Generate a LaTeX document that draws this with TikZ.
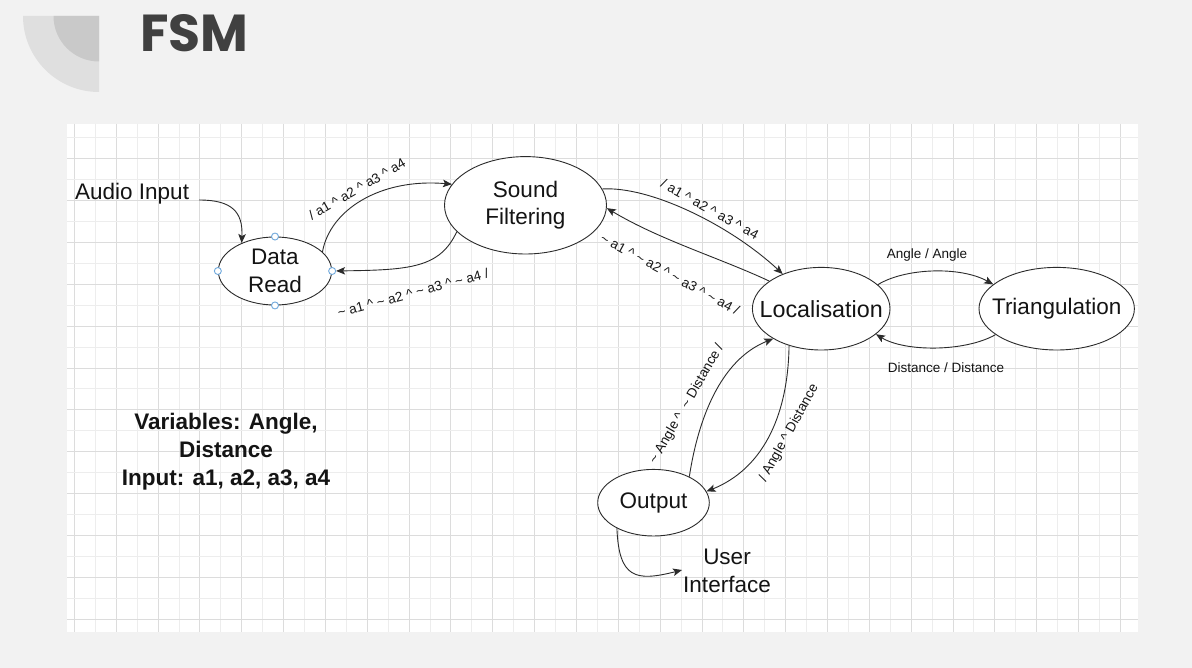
\documentclass[tikz,border=0pt]{standalone}
\usepackage{fontspec}
\setmainfont{Liberation Sans}
\newfontfamily\titlefont{Poppins}
\usetikzlibrary{arrows.meta,shapes.geometric}
\definecolor{bg}{HTML}{F2F2F2}
\definecolor{decoA}{HTML}{DFDFDF}
\definecolor{decoB}{HTML}{C9C9C9}
\definecolor{titlegray}{HTML}{404040}
\definecolor{gridlight}{HTML}{EDEDED}
\definecolor{griddark}{HTML}{DCDCDC}
\definecolor{edgecol}{HTML}{2B2B2B}
\definecolor{txtcol}{HTML}{141414}
\definecolor{handle}{HTML}{6FA8DC}
\tikzset{
  state/.style={ellipse, draw=edgecol, fill=white, line width=0.9pt, inner sep=0pt},
  bigtxt/.style={text=txtcol, align=center, inner sep=2pt, font=\fontsize{22.5}{27.5}\selectfont},
  lbl/.style={text=txtcol, inner sep=1pt, font=\fontsize{13.5}{15}\selectfont},
  conn/.style={draw=edgecol, line width=0.9pt, -{Stealth[length=9pt,width=7.5pt,inset=2pt]}},
  hnd/.style={circle, draw=handle, fill=white, line width=0.9pt, inner sep=0pt, minimum size=7pt}
}
\begin{document}
\begin{tikzpicture}[x=1pt,y=-1pt]
\useasboundingbox (0,0) rectangle (1192,668);
\fill[bg] (0,0) rectangle (1192,668);
% decoration
\fill[decoA] (99,16) -- (23,16) arc[start angle=180,end angle=270,radius=76pt] -- cycle;
\fill[decoB] (99,16) -- (53.5,16) arc[start angle=180,end angle=270,radius=45.5pt] -- cycle;
\node[anchor=west, inner sep=0pt, text=titlegray, font=\titlefont\bfseries\fontsize{52}{52}\selectfont] (title) at (140,33) {FSM};
% canvas
\fill[white] (67,124) rectangle (1138,632);
\foreach \k in {0,...,50}{
  \pgfmathsetmacro{\gx}{74.3+\k*20.92}
  \ifodd\k \def\gc{gridlight}\else \def\gc{griddark}\fi
  \draw[\gc, line width=0.8pt] (\gx,124) -- (\gx,632);
}
\foreach \k in {0,...,23}{
  \pgfmathsetmacro{\gy}{137.5+\k*20.95}
  \ifodd\k \def\gc{griddark}\else \def\gc{gridlight}\fi
  \draw[\gc, line width=0.8pt] (67,\gy) -- (1138,\gy);
}
% states
\node[state, minimum width=113.4pt, minimum height=68pt] (dr) at (275,271) {};
\node[bigtxt] (drt) at (dr) {Data\\Read};
\node[state, minimum width=162pt, minimum height=97.4pt] (sf) at (525.5,205.3) {};
\node[bigtxt] (sft) at (sf) {Sound\\Filtering};
\node[state, minimum width=137.6pt, minimum height=82.6pt] (loc) at (821.2,308.7) {};
\node[bigtxt, font=\fontsize{23.3}{27.5}\selectfont] (loct) at (loc) {Localisation};
\node[state, minimum width=155.4pt, minimum height=82.6pt] (tri) at (1056.7,308.7) {};
\node[bigtxt] (trit) at (tri) {Triangulation};
\node[state, minimum width=111.6pt, minimum height=66.6pt] (out) at (653.5,502.7) {};
\node[bigtxt] (outt) at (out) {Output};
% handles on Data Read
\node[hnd] (h1) at (dr.north) {};
\node[hnd] (h2) at (dr.south) {};
\node[hnd] (h3) at (dr.west) {};
\node[hnd] (h4) at (dr.east) {};
% free texts
\node[bigtxt, anchor=west, inner sep=0pt] (ai) at (75,194) {Audio Input};
\node[bigtxt, inner sep=0pt] (ui) at (727,571) {User\\Interface};
\node[text=txtcol, align=center, font=\bfseries\fontsize{22.5}{28}\selectfont] (vars) at (226,452) {Variables: Angle,\\Distance\\Input: a1, a2, a3, a4};
% connectors
\draw[conn] ([xshift=10pt,yshift=-6pt]ai.east) .. controls (232,200) and (243,212) .. (dr.140);
\draw[conn] (dr.22) .. controls (330,210) and (380,178) .. (sf.164.6);
\draw[conn] (sf.-159) .. controls (440,268) and (410,270) .. (h4);
\draw[conn] (sf.12.7) .. controls (650,186) and (730,225) .. (loc.138.7);
\draw[conn] (loc.152.6) .. controls (720,258) and (660,240) .. (sf.-2);
\draw[conn] (loc.23.6) .. controls (905,268) and (960,266) .. (tri.159.6);
\draw[conn] (tri.-157.6) .. controls (965,352) and (905,352) .. (loc.-25);
\draw[conn] (out.36.4) .. controls (698,420) and (720,360) .. (loc.-148);
\draw[conn] (loc.-131.2) .. controls (788,420) and (760,470) .. (out.12);
\draw[conn] (out.-145) .. controls (619,578) and (635,582) .. ([xshift=-1pt,yshift=1pt]ui.west);
% labels
\node[lbl, rotate=30] (l1) at (357,189) {/ a1 \^{} a2 \^{} a3 \^{} a4};
\node[lbl, rotate=15] (l2) at (413,293) {\textasciitilde{} a1 \^{} \textasciitilde{} a2 \^{} \textasciitilde{} a3 \^{} \textasciitilde{} a4 /};
\node[lbl, rotate=-29] (l3) at (710,209) {/ a1 \^{} a2 \^{} a3 \^{} a4};
\node[lbl, rotate=-28.5] (l4) at (670,274) {\textasciitilde{} a1 \^{} \textasciitilde{} a2 \^{} \textasciitilde{} a3 \^{} \textasciitilde{} a4 /};
\node[lbl] (l5) at (927,255) {Angle / Angle};
\node[lbl] (l6) at (946,368) {Distance / Distance};
\node[lbl, rotate=60] (l7) at (687,404) {\textasciitilde{} Angle \^{}\ \ \textasciitilde{} Distance /};
\node[lbl, rotate=61] (l8) at (789,433) {/ Angle \^{} Distance};
\end{tikzpicture}
\end{document}
